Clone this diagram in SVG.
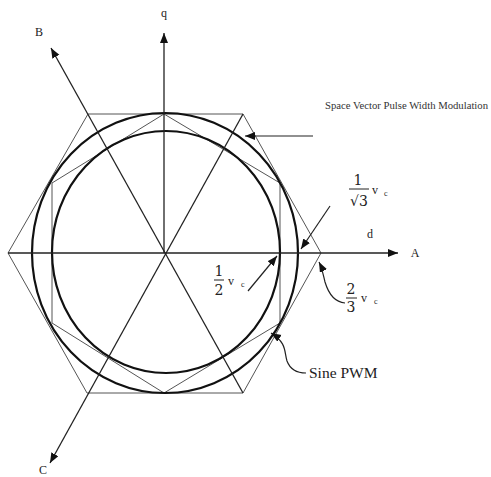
<svg xmlns="http://www.w3.org/2000/svg" width="491" height="477" viewBox="0 0 491 477">
<style>
text{font-family:"Liberation Serif","Times New Roman",serif;fill:#222}
.ax{stroke:#222;stroke-width:1.3;fill:none}
.hex{stroke:#555;stroke-width:1;fill:none}
.circ{stroke:#111;stroke-width:2.2;fill:none}
.ptr{stroke:#222;stroke-width:1.2;fill:none;marker-end:url(#ah)}
.bar{stroke:#222;stroke-width:1}
.lab{font-size:12px}
.num{font-size:14px;font-family:"DejaVu Serif","Liberation Serif",serif}
.v{font-size:12px}
.sub{font-size:8px}
</style>
<defs>
<marker id="ah" markerUnits="userSpaceOnUse" markerWidth="12" markerHeight="10" refX="10" refY="4" orient="auto">
<path d="M0,0 L10,4 L0,8 Z" fill="#111"/>
</marker>
</defs>
<g id="hexagon">
<polygon class="hex" points="8,253 88,114 243,114 321,253 243,393 87,393"/>
</g>
<g id="inner-hexagon">
<polygon class="hex" points="164,114 280,183 280,323 164,393 52,323 52,183"/>
</g>
<g id="svpwm-circle">
<ellipse class="circ" cx="165" cy="253" rx="133" ry="140"/>
</g>
<g id="sine-pwm-circle">
<ellipse class="circ" cx="166" cy="252" rx="114" ry="121"/>
</g>
<g id="connectors">
<line class="ax" x1="8" y1="253" x2="398" y2="253" marker-end="url(#ah)"/>
<line class="ax" x1="164" y1="253" x2="164" y2="33" marker-end="url(#ah)"/>
<line class="ax" x1="243" y1="393" x2="51" y2="48" marker-end="url(#ah)"/>
<line class="ax" x1="243" y1="114" x2="50" y2="463" marker-end="url(#ah)"/>
<line class="ptr" x1="313" y1="136" x2="245" y2="136"/>
<line class="ptr" x1="330" y1="206" x2="301" y2="249"/>
<line class="ptr" x1="248" y1="291" x2="277" y2="256"/>
<path class="ptr" d="M345,303 C334,302 328,292 325,282 C323,274 322,268 319,262"/>
<path class="ptr" d="M306,373 C296,373 290,369 287,361 C284,351 287,343 271,333"/>
</g>
<g id="labels">
<text class="lab" x="164" y="17" text-anchor="middle">q</text>
<text class="lab" x="39" y="36" text-anchor="middle">B</text>
<text class="lab" x="415" y="257" text-anchor="middle">A</text>
<text class="lab" x="370" y="238" text-anchor="middle">d</text>
<text class="lab" x="43" y="474" text-anchor="middle">C</text>
<text x="325" y="109" style="font-size:10.7px;fill:#333">Space Vector Pulse Width Modulation</text>
<text x="309" y="378" style="font-size:15.5px">Sine PWM</text>
</g>
<g id="label-one-over-root3">
<text class="num" x="358" y="185" text-anchor="middle">1</text>
<line class="bar" x1="349" y1="189" x2="369" y2="189"/>
<text class="num" x="359" y="206" text-anchor="middle">√3</text>
<text class="v" x="372" y="194">v</text>
<text class="sub" x="384" y="196">c</text>
</g>
<g id="label-one-half">
<text class="num" x="219" y="276" text-anchor="middle">1</text>
<line class="bar" x1="214" y1="280" x2="224" y2="280"/>
<text class="num" x="219" y="295" text-anchor="middle">2</text>
<text class="v" x="228" y="285">v</text>
<text class="sub" x="241" y="287">c</text>
</g>
<g id="label-two-thirds">
<text class="num" x="351" y="294" text-anchor="middle">2</text>
<line class="bar" x1="346" y1="298" x2="357" y2="298"/>
<text class="num" x="351" y="312" text-anchor="middle">3</text>
<text class="v" x="361" y="302">v</text>
<text class="sub" x="374" y="304">c</text>
</g>
</svg>
